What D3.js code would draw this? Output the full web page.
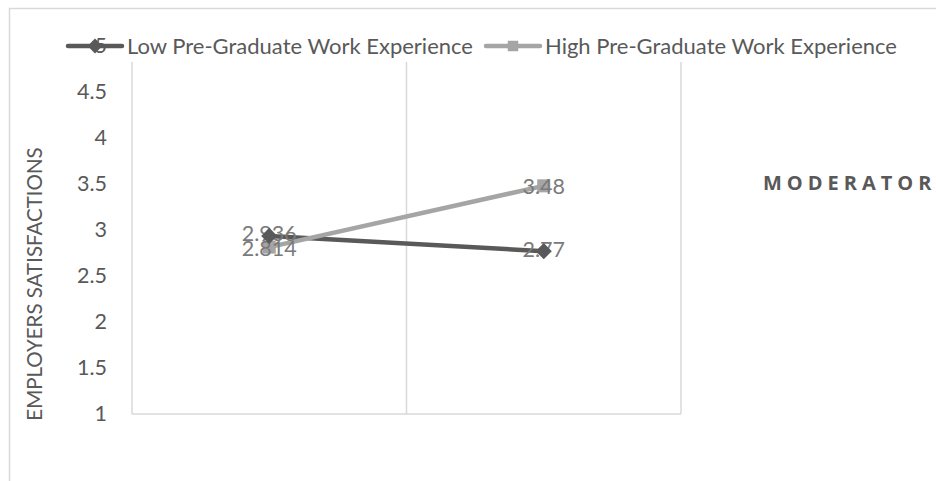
<!DOCTYPE html>
<html>
  <head>
    <meta charset="UTF-8" />
    <style>
      body { margin: 0; background: #ffffff; }
      svg { display: block; }
    </style>
  </head>
  <body>
    <svg></svg>
    <script src="https://d3js.org/d3.v7.min.js"></script>
    <script>
      // chart data
      const categories = ["A", "B"];
      const seriesNames = ["Low Pre-Graduate Work Experience", "High Pre-Graduate Work Experience"];
      const lowValues = [2.936, 2.77];
      const highValues = [2.814, 3.48];
      const lowLabels = ["2.936", "2.77"];
      const highLabels = ["2.814", "3.48"];
      const yTicks = [1, 1.5, 2, 2.5, 3, 3.5, 4, 4.5, 5];
      const yTitle = "EMPLOYERS SATISFACTIONS";
      const sideTitle = "MODERATOR";

      let width = 936,
        height = 481;

      let svg = d3.select("svg").attr("width", width).attr("height", height);

      let font = "Lato, 'Open Sans', sans-serif";

      // outer chart border (right/bottom run past the picture)
      svg.append("rect")
        .attr("x", 9.5).attr("y", 8.5)
        .attr("width", 1000).attr("height", 1000)
        .attr("fill", "#fff")
        .attr("stroke", "#d9d9d9")
        .attr("stroke-width", 1.5);

      let x = d3.scaleBand().domain(categories).range([132, 681]);
      let y = d3.scaleLinear().domain([1, 5]).range([414, 46]);
      let cx = (d) => x(d) + x.bandwidth() / 2;

      // plot frame + category gridlines
      let gridX = [x.range()[0]].concat(categories.map((c) => x(c) + x.bandwidth()));
      svg.append("g")
        .selectAll("line")
        .data(gridX)
        .join("line")
        .attr("x1", (d) => d).attr("x2", (d) => d)
        .attr("y1", y(5)).attr("y2", y(1))
        .attr("stroke", "#d9d9d9")
        .attr("stroke-width", 1.5);
      svg.append("line")
        .attr("x1", x.range()[0]).attr("x2", x.range()[1])
        .attr("y1", y(1)).attr("y2", y(1))
        .attr("stroke", "#d9d9d9")
        .attr("stroke-width", 1.5);

      // y axis
      let yAxis = svg.append("g")
        .attr("transform", "translate(107,0)")
        .call(d3.axisLeft(y).tickValues(yTicks).tickSize(0).tickPadding(0).tickFormat(d3.format("")));
      yAxis.select(".domain").remove();
      yAxis.selectAll("text")
        .attr("font-family", font)
        .attr("font-size", 21.5)
        .attr("fill", "#595959");

      svg.append("text")
        .attr("transform", "translate(42,284) rotate(-90)")
        .attr("text-anchor", "middle")
        .attr("font-family", font)
        .attr("font-size", 20.5)
        .attr("fill", "#595959")
        .text(yTitle);

      svg.append("text")
        .attr("x", 763).attr("y", 190)
        .attr("font-family", "'Open Sans', sans-serif")
        .attr("font-weight", "bold")
        .attr("font-size", 20)
        .attr("letter-spacing", 5)
        .attr("fill", "#595959")
        .text(sideTitle);

      // legend, white box hides the top of the gridlines
      svg.append("rect")
        .attr("x", 118).attr("y", 31)
        .attr("width", 790).attr("height", 31)
        .attr("fill", "#fff");

      // diamond = square turned 45deg
      let series = [
        { name: seriesNames[0], values: lowValues, labels: lowLabels, color: "#595959", rot: 45 },
        { name: seriesNames[1], values: highValues, labels: highLabels, color: "#a5a5a5", rot: 0 },
      ];

      let legendX = [68, 486];
      series.forEach((s, i) => {
        let g = svg.append("g").attr("transform", `translate(${legendX[i]},46)`);
        g.append("line")
          .attr("x1", 0).attr("x2", 54)
          .attr("stroke", s.color).attr("stroke-width", 4.5)
          .attr("stroke-linecap", "round");
        g.append("path")
          .attr("transform", `translate(27,0) rotate(${s.rot})`)
          .attr("d", d3.symbol().type(d3.symbolSquare).size(110)())
          .attr("fill", s.color);
        g.append("text")
          .attr("x", 59)
          .attr("dy", "0.35em")
          .attr("font-family", font)
          .attr("font-size", 22)
          .attr("fill", "#595959")
          .text(s.name);
      });

      let line = d3.line()
        .x((d, i) => cx(categories[i]))
        .y((d) => y(d));

      series.forEach((s) => {
        svg.append("path")
          .datum(s.values)
          .attr("d", line)
          .attr("fill", "none")
          .attr("stroke", s.color)
          .attr("stroke-width", 4.5)
          .attr("stroke-linecap", "round");
      });

      let drawMarkers = (s) => {
        svg.append("g")
          .selectAll("path")
          .data(s.values)
          .join("path")
          .attr("transform", (d, i) => `translate(${cx(categories[i])},${y(d)}) rotate(${s.rot})`)
          .attr("d", d3.symbol().type(d3.symbolSquare).size(s.rot ? 130 : 170)())
          .attr("fill", s.color);
      };

      drawMarkers(series[1]);

      series.forEach((s, k) => {
        svg.append("g")
          .selectAll("text")
          .data(s.values)
          .join("text")
          .attr("x", (d, i) => cx(categories[i]))
          .attr("y", (d) => y(d) + (k === 0 ? -2 : 1))
          .attr("dy", "0.35em")
          .attr("text-anchor", "middle")
          .attr("font-family", font)
          .attr("font-size", 21.5)
          .attr("fill", "#7a7a7a")
          .text((d, i) => s.labels[i]);
      });

      drawMarkers(series[0]);
    </script>
  </body>
</html>
